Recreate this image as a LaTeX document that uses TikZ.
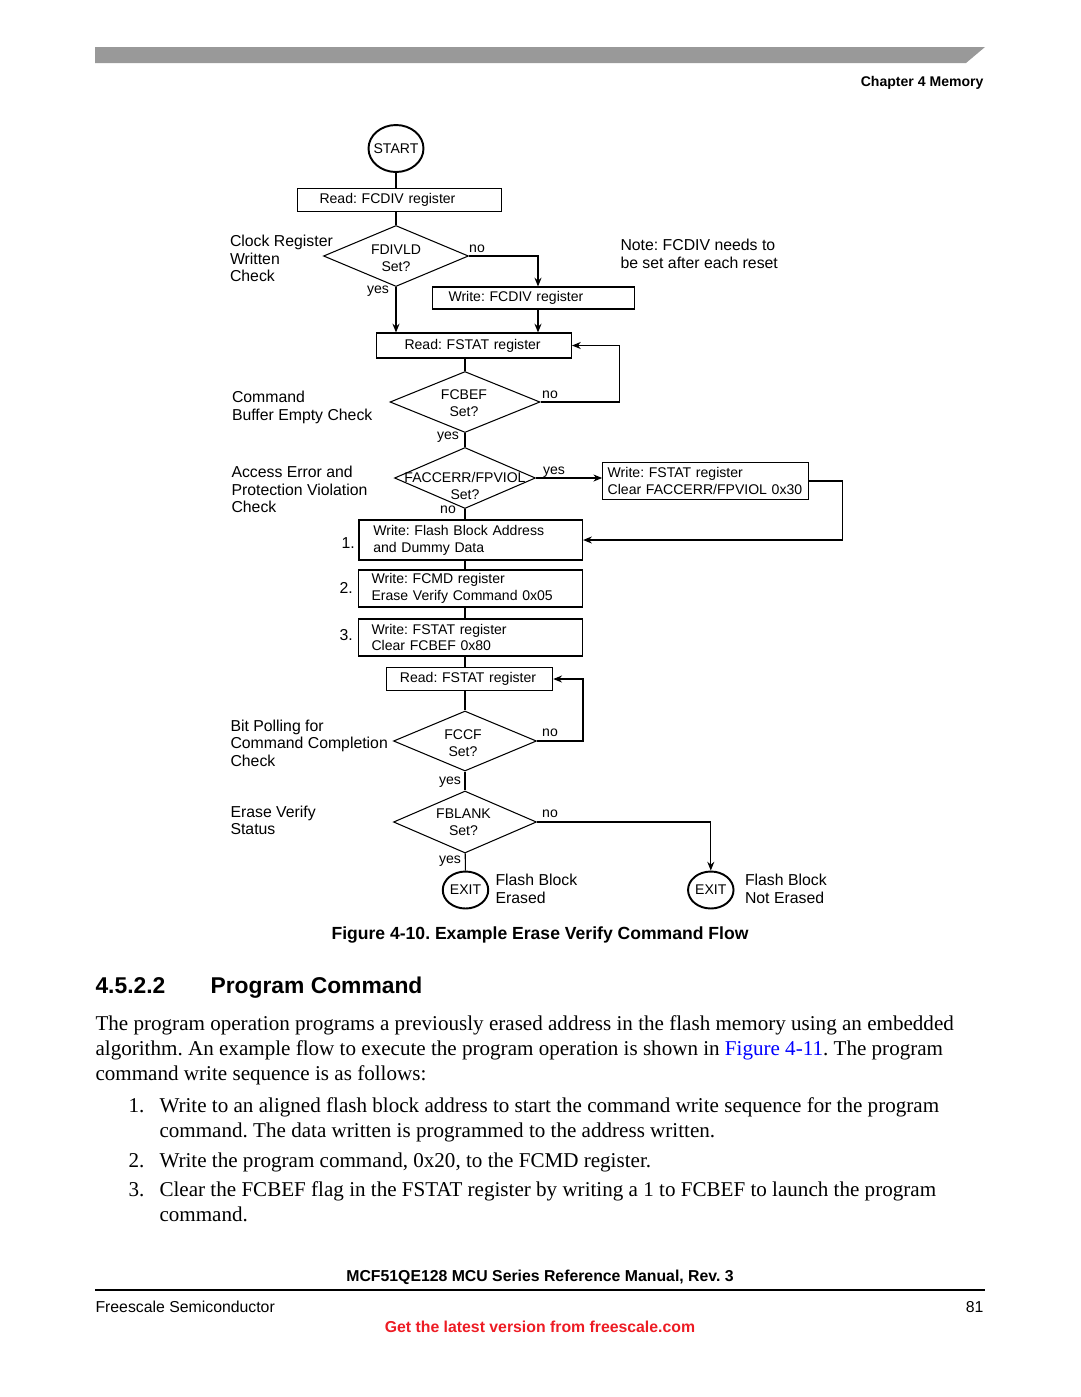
\documentclass[tikz,border=0pt]{standalone}
\usepackage{fontspec}
\setmainfont{Liberation Serif}
\setsansfont{Liberation Sans}
\usepackage{tikz}
\usetikzlibrary{arrows.meta, positioning, shapes.geometric, calc}
\definecolor{barGray}{RGB}{153,153,153}
\definecolor{linkBlue}{RGB}{0,0,255}
\definecolor{webRed}{RGB}{237,28,36}
\frenchspacing
\newcommand{\flowfont}{\sffamily\fontsize{8}{9.6}\selectfont\hyphenpenalty=10000 }
\newcommand{\sidefont}{\sffamily\fontsize{9}{9.9}\selectfont}
\tikzset{>={Stealth[length=5pt, width=4pt]},
         proc/.style n args = {3}{draw, rectangle, align=left, font=\flowfont,
                                 inner ysep=0pt, text width=#1, inner xsep=#2,
                                 minimum height=#3},
         decision/.style 2 args = {draw, diamond, inner sep=0pt,
                                   minimum width=#1, minimum height=#2},
         terminal/.style 2 args = {draw, ellipse, line width=1.1pt, inner sep=0pt,
                                   font=\flowfont, minimum width=#1, minimum height=#2},
         dtext/.style = {align=center, font=\flowfont, inner sep=0pt},
         lbl/.style = {font=\flowfont, inner sep=0pt},
         side/.style = {align=left, anchor=west, font=\sidefont, inner sep=0pt},
         body/.style = {anchor=base west, inner sep=0pt, font=\fontsize{12}{14}\selectfont}}

\begin{document}
\begin{tikzpicture}[x=0.02cm, y=-0.02cm, line width=.6pt]
        \useasboundingbox (0,0) rectangle (1080,1397);

        \fill[barGray] (95,47) -- (985,47) -- (966,63) -- (95,63) -- cycle;
        \node[anchor=base east, inner sep=0pt, font=\sffamily\bfseries\fontsize{8}{10}\selectfont]
              (chap) at (984,86) {Chapter 4 Memory};

        \node[terminal={1.1cm}{.94cm}, inner xsep=-2pt] (start) at (396,148.5) {START};
        \node[proc={3.2cm}{.44cm}{.46cm}]          (rdiv)   at (399.5,200) {Read: FCDIV register};
        \node[decision={2.9cm}{1.22cm}]            (qdiv)   at (396,256)   {};
        \node[dtext]                                        at (396,258)   {FDIVLD\\Set?};
        \node[proc={3.4cm}{.32cm}{.44cm}]          (wdiv)   at (533.5,298) {Write: FCDIV register};
        \coordinate                                (wdivx)  at (538,298);
        \node[proc={2.78cm}{.56cm}{.5cm}]          (rstat)  at (474,345.5) {Read: FSTAT register};
        \node[decision={3cm}{1.22cm}]              (qbef)   at (465,402)   {};
        \node[dtext]                                        at (464,403)   {FCBEF\\Set?};
        \node[decision={2.82cm}{1.22cm}]           (qerr)   at (465,478)   {};
        \node[dtext]                                        at (465,486)   {FACCERR/FPVIOL\\Set?};
        \node[proc={3.92cm}{.1cm}{.73cm}]          (wclr)   at (705.7,481) {Write: FSTAT register\\Clear FACCERR/FPVIOL 0x30};
        \node[proc={3.9cm}{.286cm}{.8cm}]          (wadr)   at (470.8,540) {Write: Flash Block Address\\and Dummy Data};
        \node[proc={3.97cm}{.254cm}{.74cm}]        (wcmd)   at (470.8,588.5) {Write: FCMD register\\Erase Verify Command 0x05};
        \node[proc={3.97cm}{.254cm}{.74cm}]        (wfcb)   at (470.8,637.5) {Write: FSTAT register\\Clear FCBEF 0x80};
        \node[proc={2.78cm}{.277cm}{.47cm}]        (rstat2) at (469.4,679) {Read: FSTAT register};
        \node[decision={2.86cm}{1.2cm}]            (qccf)   at (465,741)   {};
        \node[dtext]                                        at (463,743)   {FCCF\\Set?};
        \node[decision={2.86cm}{1.24cm}]           (qblk)   at (465,822)   {};
        \node[dtext]                                        at (463.5,822.5) {FBLANK\\Set?};
        \node[terminal={.91cm}{.74cm}]             (exok)   at (465.5,890) {EXIT};
        \node[terminal={.91cm}{.74cm}]             (exnot)  at (710.8,890) {EXIT};

        \draw      (start) -- (start |- rdiv.north);
        \draw      (rdiv.south -| qdiv.north) -- (qdiv);
        \draw[->]  (qdiv.east) -| (wdivx |- wdiv.north);
        \draw[->]  (qdiv.south) -- (qdiv.south |- rstat.north);
        \draw[->]  (wdivx |- wdiv.south) -- (wdivx |- rstat.north);
        \draw      (rstat.south -| qbef.north) -- (qbef);
        \draw[->]  (qbef.east) -- ++(79,0) |- (rstat.east);
        \draw      (qbef) -- (qerr);
        \draw[->]  (qerr.east) -- (qerr.east -| wclr.west);
        \draw[->]  (wclr.east) -- ++(33,0) |- (wadr.east);
        \draw      (qerr) -- (qerr |- wadr.north);
        \draw      (qerr |- wadr.south) -- (qerr |- wcmd.north);
        \draw      (qerr |- wcmd.south) -- (qerr |- wfcb.north);
        \draw      (qerr |- wfcb.south) -- (qerr |- rstat2.north);
        \draw      (qerr |- rstat2.south) -- (qccf);
        \draw[->]  (qccf.east) -- ++(46,0) |- (rstat2.east);
        \draw      (qccf) -- (qblk);
        \draw[->]  (qblk.east) -| (exnot);
        \draw      (qblk) -- (exok);

        \node[lbl] at (477,249) {no};
        \node[lbl] at (378,291) {yes};
        \node[lbl] at (550,395) {no};
        \node[lbl] at (448,437) {yes};
        \node[lbl] at (554,472) {yes};
        \node[lbl] at (448,510) {no};
        \node[lbl] at (550,733) {no};
        \node[lbl] at (450,782) {yes};
        \node[lbl] at (550,814) {no};
        \node[lbl] at (450,861) {yes};

        \node[side] at (229.5,258.5) {Clock Register\\Written\\Check};
        \node[side] at (620,254)     {Note: FCDIV needs to\\be set after each reset};
        \node[side] at (231.5,407.5) {Command\\Buffer Empty Check};
        \node[side] at (231,489.5)   {Access Error and\\Protection Violation\\Check};
        \node[side] at (230,743)     {Bit Polling for\\Command Completion\\Check};
        \node[side] at (230,820.5)   {Erase Verify\\Status};
        \node[side] at (495,889)     {Flash Block\\Erased};
        \node[side] at (744.5,889)   {Flash Block\\Not Erased};
        \node[side] at (341,543)     {1.};
        \node[side] at (339,588)     {2.};
        \node[side] at (339,635)     {3.};

        \node[anchor=base, inner sep=0pt, font=\sffamily\bfseries\fontsize{10}{12}\selectfont]
              (cap) at (540,939) {Figure 4-10. Example Erase Verify Command Flow};
        \node[anchor=base west, inner sep=0pt, font=\sffamily\bfseries\fontsize{13}{15}\selectfont]
              (secnum) at (95,993) {4.5.2.2};
        \node[anchor=base west, inner sep=0pt, font=\sffamily\bfseries\fontsize{13}{15}\selectfont]
              (sectitle) at (210,993) {Program Command};

        \node[body] at (95,1030) {The program operation programs a previously erased address in the flash memory using an embedded};
        \node[body] at (95,1055) {algorithm. An example flow to execute the program operation is shown in \textcolor{linkBlue}{Figure 4-11}. The program};
        \node[body] at (95,1080) {command write sequence is as follows:};
        \node[body] at (128,1112) {1.};
        \node[body] at (159,1112) {Write to an aligned flash block address to start the command write sequence for the program};
        \node[body] at (159,1137) {command. The data written is programmed to the address written.};
        \node[body] at (128,1167) {2.};
        \node[body] at (159,1167) {Write the program command, 0x20, to the FCMD register.};
        \node[body] at (128,1196) {3.};
        \node[body] at (159,1196) {Clear the FCBEF flag in the FSTAT register by writing a 1 to FCBEF to launch the program};
        \node[body] at (159,1221) {command.};

        \node[anchor=base, inner sep=0pt, font=\sffamily\bfseries\fontsize{9}{11}\selectfont]
              (manual) at (540,1281) {MCF51QE128 MCU Series Reference Manual, Rev. 3};
        \draw[line width=.7pt] (95,1290) -- (985,1290);
        \node[anchor=base west, inner sep=0pt, font=\sffamily\fontsize{9}{11}\selectfont]
              (vendor) at (95,1312) {Freescale Semiconductor};
        \node[anchor=base east, inner sep=0pt, font=\sffamily\fontsize{9}{11}\selectfont]
              (page) at (984,1312) {81};
        \node[anchor=base, inner sep=0pt, text=webRed, font=\sffamily\bfseries\fontsize{9}{11}\selectfont]
              (latest) at (540,1332) {Get the latest version from freescale.com};
\end{tikzpicture}
\end{document}
